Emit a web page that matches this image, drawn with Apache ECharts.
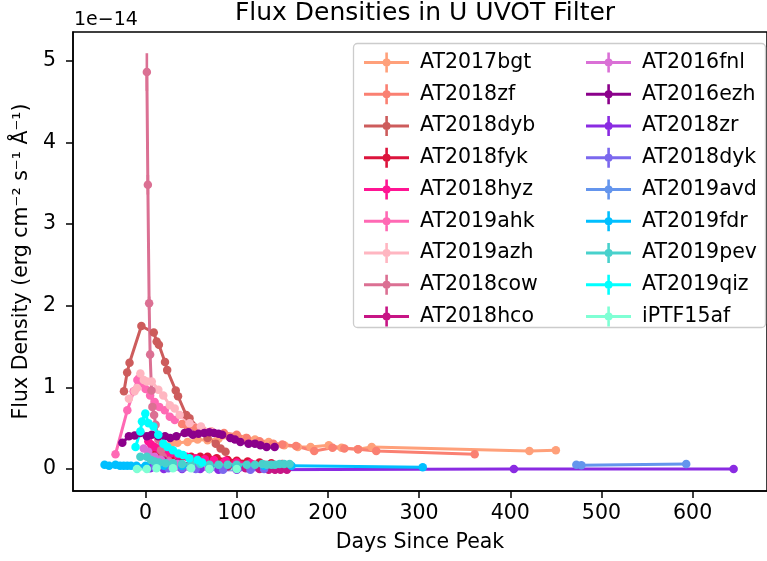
<!DOCTYPE html>
<html>
<head>
<meta charset="utf-8">
<script src="https://cdn.jsdelivr.net/npm/echarts@6/dist/echarts.min.js"></script>
<style>
html,body{margin:0;padding:0;background:#fff;}
#chart{width:767px;height:561px;}
</style>
</head>
<body>
<div id="chart"></div>
<script>
// ---- data: [days since peak, flux density in 1e-14 erg cm^-2 s^-1 A^-1] ----
const names = ["AT2017bgt","AT2018zf","AT2018dyb","AT2018fyk","AT2018hyz","AT2019ahk","AT2019azh","AT2018cow","AT2018hco",
               "AT2016fnl","AT2016ezh","AT2018zr","AT2018dyk","AT2019avd","AT2019fdr","AT2019pev","AT2019qiz","iPTF15af"];
const colors = ["#FFA07A","#FA8072","#CD5C5C","#DC143C","#FF1493","#FF69B4","#FFB6C1","#DB7093","#C71585",
                "#DA70D6","#8B008B","#8A2BE2","#7B68EE","#6495ED","#00BFFF","#48D1CC","#00FFFF","#7FFFD4"];

const bgt = [[28,0.31],[35,0.32],[46,0.33],[57,0.36],[68,0.35],[80,0.37],[92,0.39],[100,0.40],[110,0.38],[120,0.36],[135,0.33],[152,0.29],[167,0.27],[181,0.27],[201,0.29],[215,0.26],[233,0.24],[248,0.27],[421,0.22],[450,0.23]];
const zf  = [[40,0.55],[46,0.52],[55,0.50],[61,0.50],[72,0.46],[86,0.44],[100,0.42],[111,0.38],[125,0.34],[140,0.31],[150,0.30],[165,0.28],[185,0.22],[205,0.26],[218,0.25],[233,0.24],[253,0.22],[361,0.18]];
const dyb = [[-23.7,0.95],[-20.2,1.18],[-17.6,1.30],[-4.6,1.75],[9.0,1.67],[12.2,1.56],[14.6,1.52],[21.3,1.31],[23.7,1.21],[33.1,0.96],[35.6,0.89],[44.6,0.66],[48.2,0.62],[68.0,0.38],[77.0,0.31],[82.3,0.25],[87.7,0.21]];
const fyk = [[8,0.24],[15,0.20],[22,0.18],[30,0.17],[40,0.16],[50,0.15],[60,0.15],[68,0.15],[78,0.13],[90,0.11],[100,0.10],[112,0.09],[125,0.08],[138,0.07],[150,0.06]];
const hyz = [[3,0.34],[6,0.30],[10,0.27],[15,0.24],[20,0.21],[27,0.19],[35,0.17],[45,0.15],[55,0.13],[65,0.12],[75,0.11],[88,0.10],[100,0.08],[115,0.07],[130,0.05],[145,0.04],[155,0.03]];
const ahk = [[-33,0.18],[-20,0.72],[-13,0.95],[-9,1.09],[-7,1.11],[-4,1.05],[0,0.98],[5,0.90],[10,0.82],[15,0.76],[21,0.72],[26.6,0.64],[32,0.60]];
const azh = [[-18.3,0.86],[-12,0.95],[-9.4,0.99],[-5.7,1.17],[-2,1.09],[1.4,1.07],[6.8,1.07],[14,0.97],[19.4,0.90],[26.6,0.78],[32,0.74],[37.4,0.66],[48.2,0.56],[60.7,0.52],[71.5,0.46]];
const cow = [[1.4,4.86],[2.5,3.48],[3.9,2.03],[5,1.40],[6.5,0.96],[7.5,0.76],[9.4,0.66],[11,0.54],[14,0.36],[17,0.23],[19,0.15],[25,0.10],[35,0.07],[50,0.05],[70,0.04]];
const cowErr = [0.23,0.12,0.08,0.05,0.04,0.03,0.03,0.02,0.02,0.01,0.01,0.01,0.01,0.01,0.01];
const hco = [[20,0.10],[35,0.08],[50,0.06],[70,0.04],[90,0.03],[110,0.01],[125,0.0],[135,-0.01],[142,-0.01],[148,-0.01],[155,-0.01]];
const fnl = [[-2,0.25],[3,0.21],[10,0.15],[17,0.11],[25,0.08],[35,0.06],[50,0.04],[65,0.03]];
const ezh = [[-25.5,0.32],[-18.3,0.40],[-12,0.41],[-5.7,0.44],[1.4,0.40],[6.8,0.42],[14,0.40],[21.3,0.40],[27,0.38],[33.8,0.40],[42.8,0.44],[47,0.45],[51.8,0.42],[58,0.43],[64.4,0.44],[70,0.45],[75.2,0.44],[80,0.43],[84,0.42],[93,0.38],[98,0.36],[104,0.33],[113,0.31],[120,0.31],[126,0.29],[132.7,0.27],[141.6,0.27]];
const zr  = [[-10,0.02],[5,0.01],[20,0.0],[40,0.0],[60,0.0],[80,-0.01],[100,-0.01],[404,0.0],[645,0.0]];
const dyk = [[10,0.02],[25,0.01],[40,0.01],[55,0.0],[70,0.0],[85,-0.01],[100,0.0],[115,-0.01],[130,0.0]];
const avd = [[472.5,0.05],[478,0.045],[593,0.06]];
const fdr = [[-45,0.05],[-40,0.04],[-33,0.05],[-28,0.04],[-24,0.04],[-20,0.04],[-16,0.04],[-10,0.04],[0,0.04],[20,0.04],[40,0.04],[70,0.04],[100,0.04],[130,0.04],[160,0.04],[304,0.02]];
const pev = [[-5.7,0.15],[1.4,0.15],[6,0.11],[10,0.09],[15,0.08],[22,0.07],[30,0.07],[40,0.06],[50,0.06],[60,0.06],[70,0.05],[80,0.05],[90,0.05],[100,0.05],[111,0.05],[120,0.05],[128,0.06],[133,0.05],[138,0.05],[142,0.05],[147,0.06],[152,0.06],[158,0.06]];
const qiz = [[-11,0.27],[-5.7,0.46],[-4,0.58],[-0.3,0.68],[3.2,0.56],[8.6,0.52],[14,0.42],[19.4,0.31],[24,0.27],[30,0.23],[36,0.19],[41,0.17],[48,0.13],[57,0.11],[62,0.08]];
const ptf = [[-9.4,0.0],[1.4,0.0],[12,0.01],[30,0.01],[50,0.01],[70,0.0],[100,0.0]];

const seriesData = [bgt,zf,dyb,fyk,hyz,ahk,azh,cow,hco,fnl,ezh,zr,dyk,avd,fdr,pev,qiz,ptf];
const xTicks = [0,100,200,300,400,500,600];
const yTicks = [0,1,2,3,4,5];

const FONT = "DejaVu Sans";
const FS = 20.5;
const ICON = "path://M0,8.4h45v3.2h-45Z M21.3,0h2.6v20h-2.6Z M18.6,10a4,4 0 1,1 8,0a4,4 0 1,1 -8,0Z";

const series = [];
seriesData.forEach((d, i) => {
  series.push({
    name: names[i], type: 'line', data: d,
    symbol: 'circle', symbolSize: 8.5, showSymbol: true,
    lineStyle: {width: 3, color: colors[i]},
    itemStyle: {color: colors[i], borderWidth: 0},
    emphasis: {disabled: true}, animation: false, z: 2
  });
  if (names[i] === "AT2018cow") {
    series.push({
      name: 'cowErr', type: 'custom', z: 2,
      data: cow.map((p, k) => [p[0], p[1], cowErr[k]]),
      renderItem: function (params, api) {
        const x = api.value(0), y = api.value(1), e = api.value(2);
        const a = api.coord([x, y + e]), b = api.coord([x, y - e]);
        return {type: 'line', shape: {x1: a[0], y1: a[1], x2: b[0], y2: b[1]},
                style: {stroke: colors[i], lineWidth: 2.6}};
      },
      animation: false, silent: true
    });
  }
});

const legendBase = {
  orient: 'vertical', top: 47, itemWidth: 45, itemHeight: 20, itemGap: 10.75,
  icon: ICON, selectedMode: false, z: 5,
  textStyle: {fontSize: FS, fontFamily: FONT, color: '#000', padding: [0,0,0,6]},
  itemStyle: {borderWidth: 0}
};

const chart = echarts.init(document.getElementById('chart'), null, {renderer: 'canvas'});
chart.setOption({
  backgroundColor: '#fff',
  animation: false,
  grid: {left: 73, top: 32, width: 705, height: 459, show: true, borderColor: '#000', borderWidth: 1.5, containLabel: false},
  xAxis: {
    type: 'value', min: -79.6, max: 681.6,
    name: 'Days Since Peak', nameLocation: 'middle', nameGap: 41,
    nameTextStyle: {fontSize: FS, fontFamily: FONT, color: '#000'},
    axisLine: {show: true, onZero: false, lineStyle: {color: '#000', width: 1.5}},
    axisTick: {show: true, length: 7, lineStyle: {color: '#000', width: 1.5}, customValues: xTicks},
    axisLabel: {fontSize: FS, fontFamily: FONT, color: '#000', margin: 12, customValues: xTicks},
    splitLine: {show: false}
  },
  yAxis: {
    type: 'value', min: -0.27, max: 5.35,
    name: 'Flux Density (erg cm⁻² s⁻¹ Å⁻¹)', nameLocation: 'middle', nameGap: 36, nameRotate: 90,
    nameTextStyle: {fontSize: FS, fontFamily: FONT, color: '#000'},
    axisLine: {show: true, onZero: false, lineStyle: {color: '#000', width: 1.5}},
    axisTick: {show: true, length: 7, lineStyle: {color: '#000', width: 1.5}, customValues: yTicks},
    axisLabel: {fontSize: FS, fontFamily: FONT, color: '#000', margin: 17, customValues: yTicks},
    splitLine: {show: false}
  },
  legend: [
    Object.assign({}, legendBase, {left: 359, data: names.slice(0, 9)}),
    Object.assign({}, legendBase, {left: 581, data: names.slice(9)})
  ],
  graphic: [
    {type: 'rect', z: 3, shape: {x: 353.5, y: 43.5, width: 412, height: 284, r: 4},
     style: {fill: 'rgba(255,255,255,0.8)', stroke: '#cccccc', lineWidth: 1.3}},
    {type: 'text', x: 425, y: 13, z: 10,
     style: {text: 'Flux Densities in U UVOT Filter', fontSize: 25, fontFamily: FONT, fill: '#000', align: 'center', verticalAlign: 'middle'}},
    {type: 'text', x: 74, y: 20, z: 10,
     style: {text: '1e−14', fontSize: 19, fontFamily: FONT, fill: '#000', align: 'left', verticalAlign: 'middle'}}
  ],
  series: series
});
</script>
</body>
</html>
